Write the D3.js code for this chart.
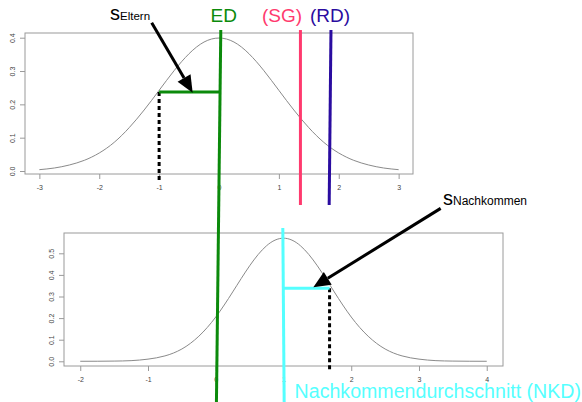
<!DOCTYPE html>
<html>
<head>
<meta charset="utf-8">
<script src="https://cdn.jsdelivr.net/npm/d3@7"></script>
<style>
  body { margin: 0; background: #fff; }
  svg { display: block; font-family: "Liberation Sans", Arial, sans-serif; }
</style>
</head>
<body>
<svg id="chart" width="582" height="402"></svg>
<script>
// parent curve, N(0,1)
var parentX = [-3, -2.75, -2.5, -2.25, -2, -1.75, -1.5, -1.25, -1, -0.75, -0.5, -0.25, 0,
               0.25, 0.5, 0.75, 1, 1.25, 1.5, 1.75, 2, 2.25, 2.5, 2.75, 3];
var parentY = [0.004, 0.009, 0.018, 0.032, 0.054, 0.086, 0.130, 0.183, 0.242, 0.301, 0.352, 0.387, 0.399,
               0.387, 0.352, 0.301, 0.242, 0.183, 0.130, 0.086, 0.054, 0.032, 0.018, 0.009, 0.004];

// offspring curve, lower panel (mean about 1, narrower)
var childX = [-2, -1.75, -1.5, -1.25, -1, -0.75, -0.5, -0.25, 0, 0.25, 0.5, 0.75, 1,
              1.25, 1.5, 1.75, 2, 2.25, 2.5, 2.75, 3, 3.25, 3.5, 3.75, 4];
var childY = [0.0001, 0.0003, 0.001, 0.003, 0.010, 0.025, 0.057, 0.116, 0.205, 0.321, 0.442, 0.535, 0.570,
              0.535, 0.442, 0.321, 0.205, 0.116, 0.057, 0.025, 0.010, 0.003, 0.001, 0.0003, 0.0001];

var topXTicks = [-3, -2, -1, 0, 1, 2, 3];
var topYTicks = [0.0, 0.1, 0.2, 0.3, 0.4];
var botXTicks = [-2, -1, 0, 1, 2, 3, 4];
var botYTicks = [0.0, 0.1, 0.2, 0.3, 0.4, 0.5];

// annotation positions in data units of each panel
var edTop = [0.03, 0.423], edBottom = [0.01, -0.188];
var sgLine = [[1.36, 0.423], [1.36, -0.102]];
var rdLine = [[1.87, 0.423], [1.84, -0.102]];
var parentSd = [[-1, 0.237], [0.03, 0.237]];
var parentDash = [[-1, 0.237], [-1, -0.027]];
var parentArrow = [[-1.124, 0.445], [-0.44, 0.235]];
var nkdLine = [[0.99, 0.617], [1.01, -0.188]];
var childSd = [[1, 0.338], [1.68, 0.338]];
var childDash = [[1.68, 0.338], [1.68, -0.051]];
var childArrow = [[3.32, 0.708], [1.44, 0.343]];

var green = '#0b8a0b', pink = '#ff3a6e', blue = '#2a0ca0', cyan = '#55ffff';

(function () {
var svg = d3.select('#chart');

var upBox = { left: 25, right: 413, top: 33, bottom: 174 };
var lowBox = { left: 64, right: 503, top: 233, bottom: 366 };

var xTop = d3.scaleLinear().domain([-3.24, 3.24]).range([upBox.left, upBox.right]);
var yTop = d3.scaleLinear().domain([0, 0.4]).range([171, 37.7]);
var xBot = d3.scaleLinear().domain([-2.24, 4.24]).range([lowBox.left, lowBox.right]);
var yBot = d3.scaleLinear().domain([0, 0.5]).range([361.3, 253.3]);

function panel(p, x, y, xs, ys, xt, yt) {
    var g = svg.append('g');
    g.append('rect')
        .attr('x', p.left).attr('y', p.top)
        .attr('width', p.right - p.left).attr('height', p.bottom - p.top)
        .attr('fill', 'none').attr('stroke', '#9a9a9a').attr('stroke-width', 1);

    var xa = g.append('g')
        .attr('transform', 'translate(0,' + p.bottom + ')')
        .call(d3.axisBottom(x).tickValues(xt).tickSize(5).tickPadding(6).tickFormat(d3.format('d')));
    var ya = g.append('g')
        .attr('transform', 'translate(' + p.left + ',0)')
        .call(d3.axisLeft(y).tickValues(yt).tickSize(5).tickFormat(d3.format('.1f')));
    [xa, ya].forEach(function (a) {
        a.select('.domain').remove();
        a.selectAll('line').attr('stroke', '#9a9a9a');
        a.selectAll('text').attr('fill', '#444').style('font-size', '7px')
            .style('font-family', '"Liberation Sans", Arial, sans-serif');
    });
    xa.selectAll('text').text(function (d) { return d < 0 ? '-' + (-d) : d; });
    ya.selectAll('text')
        .attr('text-anchor', 'middle')
        .attr('x', 0).attr('y', 0).attr('dy', null)
        .attr('transform', 'translate(-10,0) rotate(-90)');

    g.append('path')
        .datum(d3.zip(xs, ys))
        .attr('fill', 'none').attr('stroke', '#8a8a8a').attr('stroke-width', 1)
        .attr('d', d3.line().x(function (d) { return x(d[0]); }).y(function (d) { return y(d[1]); })
            .curve(d3.curveNatural));
}

panel(upBox, xTop, yTop, parentX, parentY, topXTicks, topYTicks);
panel(lowBox, xBot, yBot, childX, childY, botXTicks, botYTicks);

function seg(pts, x, y, color, w, dash) {
    svg.append('line')
        .attr('x1', x(pts[0][0])).attr('y1', y(pts[0][1]))
        .attr('x2', x(pts[1][0])).attr('y2', y(pts[1][1]))
        .attr('stroke', color).attr('stroke-width', w)
        .attr('stroke-dasharray', dash || null);
}

function arrow(pts, x, y) {
    var x1 = x(pts[0][0]), y1 = y(pts[0][1]), x2 = x(pts[1][0]), y2 = y(pts[1][1]);
    var a = Math.atan2(y2 - y1, x2 - x1), len = 17, half = 7.5;
    var bx = x2 - len * Math.cos(a), by = y2 - len * Math.sin(a);
    svg.append('line')
        .attr('x1', x1).attr('y1', y1).attr('x2', bx).attr('y2', by)
        .attr('stroke', '#000').attr('stroke-width', 3);
    svg.append('path')
        .attr('d', 'M' + x2 + ',' + y2 +
            'L' + (bx - half * Math.sin(a)) + ',' + (by + half * Math.cos(a)) +
            'L' + (bx + half * Math.sin(a)) + ',' + (by - half * Math.cos(a)) + 'Z')
        .attr('fill', '#000');
}

// upper panel marks
seg(parentDash, xTop, yTop, '#000', 3, '4,3');
seg(parentSd, xTop, yTop, green, 3);
seg(sgLine, xTop, yTop, pink, 3);
seg(rdLine, xTop, yTop, blue, 3);
arrow(parentArrow, xTop, yTop);

// lower panel marks
seg(childDash, xBot, yBot, '#000', 3, '4,3');
seg(childSd, xBot, yBot, cyan, 3);
seg(nkdLine, xBot, yBot, cyan, 3);
arrow(childArrow, xBot, yBot);

// ED line joins both panels
svg.append('line')
    .attr('x1', xTop(edTop[0])).attr('y1', yTop(edTop[1]))
    .attr('x2', xBot(edBottom[0])).attr('y2', yBot(edBottom[1]))
    .attr('stroke', green).attr('stroke-width', 3);

// labels
function label(txt, x, y, color, size, anchor) {
    return svg.append('text').attr('x', x).attr('y', y)
        .attr('fill', color).style('font-size', size + 'px')
        .attr('text-anchor', anchor || 'start').text(txt);
}
label('ED', xTop(edTop[0]) + 3, 22, green, 19, 'middle');
label('(SG)', 262, 22, pink, 19);
label('(RD)', 310, 22, blue, 19);
label('Nachkommendurchschnitt (NKD)', 581, 398, cyan, 19.6, 'end');

var se = label('s', 110, 20, '#000', 20);
se.append('tspan').style('font-size', '11.5px').text('Eltern');
var sn = label('s', 443, 205, '#000', 20);
sn.append('tspan').style('font-size', '12px').text('Nachkommen');
})();
</script>
</body>
</html>
